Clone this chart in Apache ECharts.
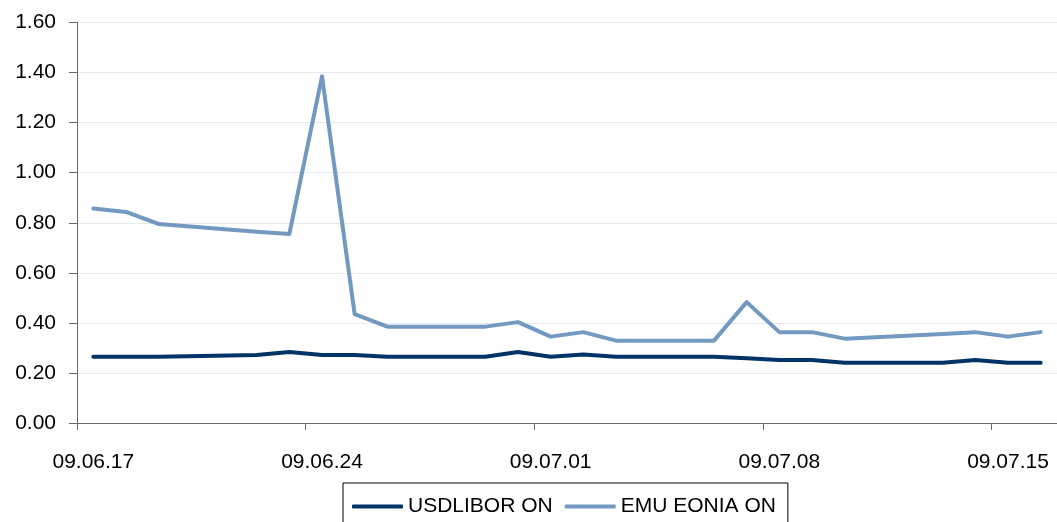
<!DOCTYPE html>
<html>
<head>
<meta charset="utf-8">
<script src="https://cdn.jsdelivr.net/npm/echarts@6/dist/echarts.min.js"></script>
<style>
  html, body { margin: 0; padding: 0; background: #fff; }
  #chart { width: 1057px; height: 522px; }
</style>
</head>
<body>
<div id="chart"></div>
<script>
// one category per calendar day (yy.mm.dd), weekends have no fixing
var days = ['09.06.17', '09.06.18', '09.06.19', '09.06.20', '09.06.21', '09.06.22', '09.06.23',
            '09.06.24', '09.06.25', '09.06.26', '09.06.27', '09.06.28', '09.06.29', '09.06.30',
            '09.07.01', '09.07.02', '09.07.03', '09.07.04', '09.07.05', '09.07.06', '09.07.07',
            '09.07.08', '09.07.09', '09.07.10', '09.07.11', '09.07.12', '09.07.13', '09.07.14',
            '09.07.15', '09.07.16'];

var usdLibor = [0.265, 0.265, 0.265, null, null, 0.272, 0.284,
                0.272, 0.272, 0.265, null, null, 0.265, 0.284,
                0.265, 0.274, 0.265, null, null, 0.265, 0.259,
                0.252, 0.252, 0.241, null, null, 0.241, 0.252,
                0.241, 0.241];

var emuEonia = [0.857, 0.843, 0.795, null, null, 0.764, 0.755,
                1.385, 0.435, 0.385, null, null, 0.385, 0.403,
                0.345, 0.363, 0.329, null, null, 0.329, 0.483,
                0.363, 0.363, 0.337, null, null, 0.356, 0.363,
                0.345, 0.363];

var seriesNames = ['USDLIBOR ON', 'EMU EONIA ON'];
var seriesColors = ['#003366', '#7399c0'];

var FONT = 'Liberation Sans, Arial, sans-serif';

function lineSeries(name, data, color) {
    return {
        name: name,
        type: 'line',
        data: data,
        connectNulls: true,
        showSymbol: false,
        symbol: 'none',
        lineStyle: { color: color, width: 4, cap: 'round', join: 'round' },
        itemStyle: { color: color }
    };
}

var myChart = echarts.init(document.getElementById('chart'));
myChart.setOption({
    animation: false,
    backgroundColor: '#fff',
    grid: { left: 77, right: -4, top: 22.5, bottom: 99 },
    xAxis: {
        type: 'category',
        data: days,
        boundaryGap: true,
        axisLine: { show: true, lineStyle: { color: '#6a6a6a', width: 1 } },
        axisTick: { show: true, interval: 6, length: 7, lineStyle: { color: '#6a6a6a' } },
        axisLabel: {
            interval: 6, margin: 29, color: '#000',
            fontFamily: FONT, fontSize: 21
        },
        splitLine: { show: false }
    },
    yAxis: {
        type: 'value',
        min: 0, max: 1.6, interval: 0.2,
        axisLine: { show: true, lineStyle: { color: '#6a6a6a', width: 1 } },
        axisTick: { show: true, length: 8, lineStyle: { color: '#6a6a6a' } },
        axisLabel: {
            margin: 21, color: '#000', fontFamily: FONT, fontSize: 21,
            formatter: function (v) { return v.toFixed(2); }
        },
        splitLine: { show: true, lineStyle: { color: '#e6eaf0', width: 1 } }
    },
    legend: {
        left: 343, top: 483,
        padding: [13, 12, 20, 9],
        itemGap: 12,
        itemWidth: 51, itemHeight: 4,
        icon: 'roundRect',
        borderColor: '#000', borderWidth: 1,
        backgroundColor: '#fff',
        textStyle: { color: '#000', fontFamily: FONT, fontSize: 21 },
        data: seriesNames
    },
    series: [
        lineSeries(seriesNames[0], usdLibor, seriesColors[0]),
        lineSeries(seriesNames[1], emuEonia, seriesColors[1])
    ]
});
</script>
</body>
</html>
